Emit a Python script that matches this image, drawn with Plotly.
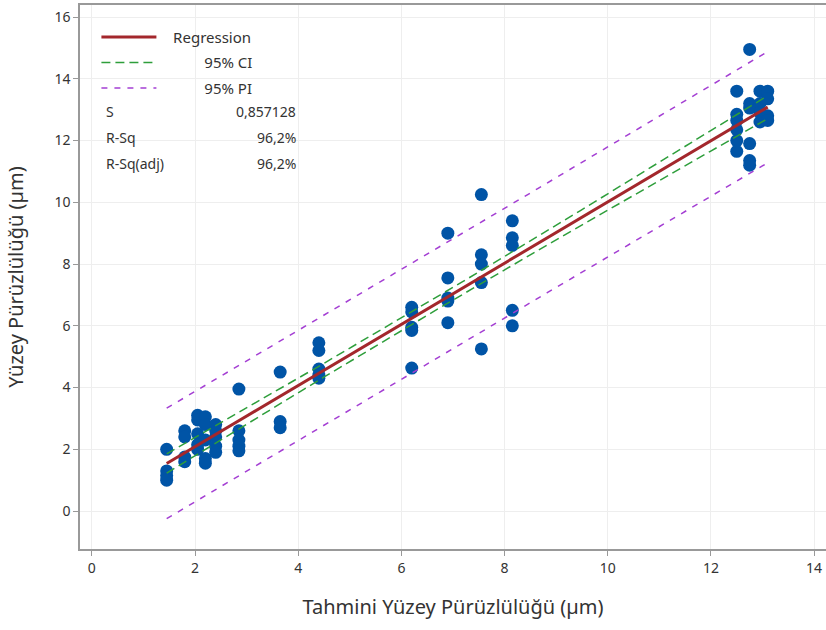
import numpy as np
import plotly.graph_objects as go

fitted = [1.45, 1.45, 1.45, 1.45,
          1.8, 1.8, 1.8, 1.8,
          2.05, 2.05, 2.05, 2.05, 2.05,
          2.2, 2.2, 2.2, 2.2, 2.2,
          2.4, 2.4, 2.4, 2.4, 2.4,
          2.85, 2.85, 2.85, 2.85, 2.85,
          3.65, 3.65, 3.65,
          4.4, 4.4, 4.4, 4.4, 4.4,
          6.2, 6.2, 6.2, 6.2, 6.2,
          6.9, 6.9, 6.9, 6.9, 6.9,
          7.55, 7.55, 7.55, 7.55, 7.55,
          8.15, 8.15, 8.15, 8.15, 8.15,
          12.5, 12.5, 12.5, 12.5, 12.5, 12.5,
          12.75, 12.75, 12.75, 12.75, 12.75, 12.75,
          12.95, 12.95, 12.95, 12.95,
          13.1, 13.1, 13.1, 13.1]
observed = [2.0, 1.3, 1.15, 1.0,
            2.6, 2.4, 1.75, 1.6,
            3.1, 2.95, 2.5, 2.15, 2.0,
            3.05, 2.8, 2.3, 1.7, 1.55,
            2.8, 2.6, 2.4, 2.1, 1.9,
            3.95, 2.6, 2.3, 2.1, 1.95,
            4.5, 2.9, 2.7,
            5.45, 5.2, 4.6, 4.4, 4.3,
            6.6, 6.45, 5.95, 5.85, 4.63,
            9.0, 7.55, 6.9, 6.8, 6.1,
            10.25, 8.3, 8.0, 7.4, 5.25,
            9.4, 8.85, 8.6, 6.5, 6.0,
            13.6, 12.85, 12.65, 12.35, 12.0, 11.65,
            14.95, 13.2, 13.05, 11.9, 11.35, 11.2,
            13.6, 13.2, 12.9, 12.6,
            13.6, 13.35, 12.8, 12.65]

stats_labels = ["S", "R-Sq", "R-Sq(adj)"]
stats_values = ["0,857128", "96,2%", "96,2%"]

x_ticks = [0, 2, 4, 6, 8, 10, 12, 14]
y_ticks = [0, 2, 4, 6, 8, 10, 12, 14, 16]

# Regression with confidence and prediction bands
x = np.array(fitted)
y = np.array(observed)
n = len(x)
b1, b0 = np.polyfit(x, y, 1)
resid = y - (b0 + b1 * x)
s = np.sqrt(np.sum(resid ** 2) / (n - 2))
tval = 1.993
xs = np.linspace(x.min(), x.max(), 200)
ys = b0 + b1 * xs
sxx = np.sum((x - x.mean()) ** 2)
se_fit = s * np.sqrt(1 / n + (xs - x.mean()) ** 2 / sxx)
se_pred = s * np.sqrt(1 + 1 / n + (xs - x.mean()) ** 2 / sxx)

font = "Noto Sans"
nb = "\u00a0"
fig = go.Figure()

fig.add_trace(go.Scatter(x=x, y=y, mode="markers", showlegend=False,
                         marker=dict(size=13, color="#0054A6")))
fig.add_trace(go.Scatter(x=xs, y=ys, mode="lines", name=nb * 3 + "Regression",
                         legendgroup="a", line=dict(color="#A3272C", width=3)))
ci_dash = "9px,5px"
pi_dash = "6px,7px"
fig.add_trace(go.Scatter(x=xs, y=ys + tval * se_fit, mode="lines",
                         name=nb * 11 + "95% CI",
                         legendgroup="b",
                         line=dict(color="#2E9E3B", width=1.5, dash=ci_dash)))
fig.add_trace(go.Scatter(x=xs, y=ys - tval * se_fit, mode="lines", showlegend=False,
                         legendgroup="b",
                         line=dict(color="#2E9E3B", width=1.5, dash=ci_dash)))
fig.add_trace(go.Scatter(x=xs, y=ys + tval * se_pred, mode="lines",
                         name=nb * 11 + "95% PI",
                         legendgroup="c",
                         line=dict(color="#A43FD3", width=1.5, dash=pi_dash)))
fig.add_trace(go.Scatter(x=xs, y=ys - tval * se_pred, mode="lines", showlegend=False,
                         legendgroup="c",
                         line=dict(color="#A43FD3", width=1.5, dash=pi_dash)))

ys_ann = [0.805, 0.757, 0.709]
for lab, val, yy in zip(stats_labels, stats_values, ys_ann):
    fig.add_annotation(text=lab, xref="paper", yref="paper", x=0.032, y=yy,
                       xanchor="left", yanchor="middle", showarrow=False,
                       font=dict(family=font, size=14, color="#333333"))
    fig.add_annotation(text=val, xref="paper", yref="paper", x=0.292, y=yy,
                       xanchor="right", yanchor="middle", showarrow=False,
                       font=dict(family=font, size=14, color="#333333"))

axis_common = dict(showline=True, linecolor="#999999", linewidth=1.5,
                   showgrid=True, gridcolor="#EEEEEE", gridwidth=1,
                   ticks="outside", ticklen=5, tickcolor="#999999",
                   zeroline=False, automargin=False,
                   tickfont=dict(family=font, size=14, color="#333333"))

fig.update_layout(
    width=826, height=630,
    margin=dict(l=80, r=0, t=5, b=81),
    plot_bgcolor="white", paper_bgcolor="white",
    xaxis=dict(range=[-0.23, 14.23], tickvals=x_ticks, mirror=True,
               title=dict(text="Tahmini Yüzey Pürüzlülüğü (µm)", standoff=24,
                          font=dict(family=font, size=20, color="#333333")),
               **axis_common),
    yaxis=dict(range=[-1.23, 16.39], tickvals=y_ticks,
               title=dict(text="Yüzey Pürüzlülüğü (µm)", standoff=25,
                          font=dict(family=font, size=20, color="#333333")),
               **axis_common),
    legend=dict(x=0.022, y=0.971, xanchor="left", yanchor="top",
                bgcolor="rgba(0,0,0,0)", itemwidth=55, tracegroupgap=3,
                font=dict(family=font, size=15, color="#333333")),
)

fig.write_html("out.html", config={"displayModeBar": False},
               post_script="document.body.style.margin='0';document.body.style.overflow='hidden';")
